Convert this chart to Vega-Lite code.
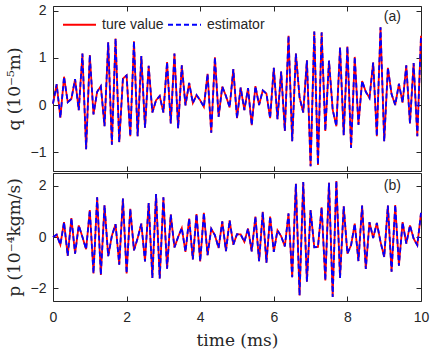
{
  "$schema": "https://vega.github.io/schema/vega-lite/v6.json",
  "padding": {"left": 4, "top": 3, "right": 5, "bottom": 5},
  "background": "white",
  "datasets": {
    "d": [
      {"t":0.0,"q":0.03,"p":0.00},{"t":0.1,"q":0.44,"p":0.09},{"t":0.2,"q":-0.27,"p":-0.30},{"t":0.3,"q":0.60,"p":0.58},{"t":0.4,"q":0.06,"p":-0.74},
      {"t":0.5,"q":0.13,"p":0.74},{"t":0.6,"q":0.55,"p":-0.65},{"t":0.7,"q":-0.11,"p":0.45},{"t":0.8,"q":1.09,"p":0.00},{"t":0.9,"q":-0.94,"p":-0.48},
      {"t":1.0,"q":1.06,"p":1.05},{"t":1.1,"q":-0.20,"p":-1.42},{"t":1.2,"q":0.28,"p":1.55},{"t":1.3,"q":0.40,"p":-1.48},{"t":1.4,"q":-0.45,"p":1.24},
      {"t":1.5,"q":1.33,"p":-0.75},{"t":1.6,"q":-0.84,"p":0.05},{"t":1.7,"q":1.41,"p":0.50},{"t":1.8,"q":-0.79,"p":-1.08},{"t":1.9,"q":0.56,"p":1.50},
      {"t":2.0,"q":0.63,"p":-1.42},{"t":2.1,"q":-0.66,"p":1.10},{"t":2.2,"q":1.35,"p":-0.52},{"t":2.3,"q":-0.66,"p":-0.05},{"t":2.4,"q":1.04,"p":0.52},
      {"t":2.5,"q":-0.48,"p":-0.95},{"t":2.6,"q":0.83,"p":1.33},{"t":2.7,"q":-0.16,"p":-1.60},{"t":2.8,"q":0.10,"p":1.68},{"t":2.9,"q":0.19,"p":-1.62},
      {"t":3.0,"q":-0.16,"p":1.55},{"t":3.1,"q":0.91,"p":-1.24},{"t":3.2,"q":-0.39,"p":0.88},{"t":3.3,"q":1.09,"p":-0.41},{"t":3.4,"q":-0.49,"p":0.00},
      {"t":3.5,"q":0.84,"p":0.35},{"t":3.6,"q":-0.01,"p":-0.58},{"t":3.7,"q":0.47,"p":0.72},{"t":3.8,"q":0.04,"p":-0.88},{"t":3.9,"q":0.21,"p":0.90},
      {"t":4.0,"q":0.10,"p":-0.95},{"t":4.1,"q":-0.04,"p":0.94},{"t":4.2,"q":0.66,"p":-0.71},{"t":4.3,"q":-0.59,"p":0.32},{"t":4.4,"q":1.01,"p":0.07},
      {"t":4.5,"q":-0.25,"p":-0.43},{"t":4.6,"q":0.39,"p":0.61},{"t":4.7,"q":0.19,"p":-0.55},{"t":4.8,"q":-0.05,"p":0.65},{"t":4.9,"q":0.76,"p":-0.30},
      {"t":5.0,"q":-0.28,"p":0.11},{"t":5.1,"q":0.37,"p":0.10},{"t":5.2,"q":-0.11,"p":-0.19},{"t":5.3,"q":0.36,"p":0.33},{"t":5.4,"q":-0.43,"p":-0.56},
      {"t":5.5,"q":0.40,"p":0.80},{"t":5.6,"q":0.00,"p":-0.94},{"t":5.7,"q":0.31,"p":0.98},{"t":5.8,"q":0.24,"p":-1.00},{"t":5.9,"q":-0.28,"p":0.80},
      {"t":6.0,"q":0.79,"p":-0.58},{"t":6.1,"q":-0.30,"p":0.26},{"t":6.2,"q":0.71,"p":0.03},{"t":6.3,"q":-0.55,"p":-0.37},{"t":6.4,"q":1.47,"p":0.92},
      {"t":6.5,"q":-0.77,"p":-1.57},{"t":6.6,"q":1.09,"p":2.08},{"t":6.7,"q":0.16,"p":-2.28},{"t":6.8,"q":-0.16,"p":2.15},{"t":6.9,"q":0.95,"p":-1.75},
      {"t":7.0,"q":-1.30,"p":1.05},{"t":7.1,"q":1.56,"p":-0.40},{"t":7.2,"q":-1.27,"p":-0.39},{"t":7.3,"q":1.54,"p":1.16},{"t":7.4,"q":-0.55,"p":-1.70},
      {"t":7.5,"q":0.94,"p":2.12},{"t":7.6,"q":-0.10,"p":-2.34},{"t":7.7,"q":-0.45,"p":2.19},{"t":7.8,"q":1.22,"p":-1.60},{"t":7.9,"q":-0.64,"p":1.20},
      {"t":8.0,"q":1.24,"p":-0.65},{"t":8.1,"q":-0.91,"p":-0.32},{"t":8.2,"q":1.02,"p":0.52},{"t":8.3,"q":-0.42,"p":-0.94},{"t":8.4,"q":0.51,"p":1.23},
      {"t":8.5,"q":0.28,"p":-1.25},{"t":8.6,"q":0.15,"p":0.58},{"t":8.7,"q":0.90,"p":-0.04},{"t":8.8,"q":-0.66,"p":0.55},{"t":8.9,"q":1.65,"p":-0.19},
      {"t":9.0,"q":-0.77,"p":-0.78},{"t":9.1,"q":0.79,"p":1.23},{"t":9.2,"q":0.23,"p":-1.36},{"t":9.3,"q":0.00,"p":1.25},{"t":9.4,"q":0.45,"p":-1.12},
      {"t":9.5,"q":0.05,"p":0.58},{"t":9.6,"q":0.84,"p":-0.26},{"t":9.7,"q":-0.39,"p":0.45},{"t":9.8,"q":0.89,"p":-0.06},{"t":9.9,"q":-0.66,"p":-0.32},
      {"t":10.0,"q":1.47,"p":0.94}
    ]
  },
  "config": {
    "view": {"stroke": "#262626", "strokeWidth": 1},
    "axis": {
      "grid": false, "domain": false, "tickSize": -5, "tickColor": "#262626", "tickWidth": 1, "labelFlush": false,
      "labelFont": "Liberation Sans", "labelFontSize": 14, "labelColor": "#262626",
      "titleFont": "DejaVu Serif", "titleFontSize": 17, "titleFontWeight": "normal", "titleColor": "#262626"
    },
    "legend": {"labelFont": "Liberation Sans", "labelFontSize": 14, "labelColor": "#262626"}
  },
  "spacing": 0,
  "vconcat": [
    {
      "width": 368, "height": 165,
      "data": {"name": "d"},
      "layer": [
        {
          "mark": {"type": "line", "strokeWidth": 1.8},
          "encoding": {
            "x": {"field": "t", "type": "quantitative", "scale": {"domain": [0, 10], "nice": false},
                  "axis": {"values": [0, 2, 4, 6, 8, 10], "labels": false, "title": null}},
            "y": {"field": "q", "type": "quantitative", "scale": {"domain": [-1.4, 2.1], "nice": false, "zero": false},
                  "axis": {"values": [-1, 0, 1, 2], "title": "q (10⁻⁵m)", "labelPadding": 12, "titlePadding": 7}},
            "color": {"datum": "ture value", "type": "nominal",
                      "scale": {"domain": ["ture value", "estimator"], "range": ["#ff0000", "#0000ff"]},
                      "legend": {"orient": "none", "direction": "horizontal", "legendX": 9, "legendY": 1, "title": null,
                                 "symbolType": "stroke", "symbolSize": 1089, "symbolStrokeWidth": 1.8, "labelOffset": 5, "columnPadding": 0, "padding": 0}},
            "strokeDash": {"datum": "ture value", "type": "nominal",
                           "scale": {"domain": ["ture value", "estimator"], "range": [[1, 0], [5, 3]]},
                           "legend": {"orient": "none", "direction": "horizontal", "legendX": 9, "legendY": 1, "title": null}}
          }
        },
        {
          "mark": {"type": "line", "strokeWidth": 1.8},
          "encoding": {
            "x": {"field": "t", "type": "quantitative", "axis": {"orient": "top", "values": [0, 2, 4, 6, 8, 10], "labels": false, "title": null}},
            "y": {"field": "q", "type": "quantitative", "axis": {"orient": "right", "values": [-1, 0, 1, 2], "labels": false, "title": null}},
            "color": {"datum": "estimator", "type": "nominal"},
            "strokeDash": {"datum": "estimator", "type": "nominal"}
          }
        },
        {
          "data": {"values": [{"label": "(a)"}]},
          "mark": {"type": "text", "font": "Liberation Sans", "fontSize": 14, "color": "#262626"},
          "encoding": {
            "x": {"datum": 9.22, "type": "quantitative", "axis": null},
            "y": {"datum": 1.87, "type": "quantitative", "axis": null},
            "text": {"field": "label"}
          }
        }
      ],
      "resolve": {"axis": {"x": "independent", "y": "independent"}}
    },
    {
      "width": 368, "height": 128,
      "data": {"name": "d"},
      "layer": [
        {
          "mark": {"type": "line", "strokeWidth": 1.8},
          "encoding": {
            "x": {"field": "t", "type": "quantitative", "scale": {"domain": [0, 10], "nice": false},
                  "axis": {"values": [0, 2, 4, 6, 8, 10], "title": "time (ms)", "labelPadding": 14, "titlePadding": 8}},
            "y": {"field": "p", "type": "quantitative", "scale": {"domain": [-2.5, 2.5], "nice": false},
                  "axis": {"values": [-2, 0, 2], "title": "p (10⁻⁴kgm/s)", "labelPadding": 12, "titlePadding": 7}},
            "color": {"datum": "ture value", "type": "nominal"},
            "strokeDash": {"datum": "ture value", "type": "nominal"}
          }
        },
        {
          "mark": {"type": "line", "strokeWidth": 1.8},
          "encoding": {
            "x": {"field": "t", "type": "quantitative", "axis": {"orient": "top", "values": [0, 2, 4, 6, 8, 10], "labels": false, "title": null}},
            "y": {"field": "p", "type": "quantitative", "axis": {"orient": "right", "values": [-2, 0, 2], "labels": false, "title": null}},
            "color": {"datum": "estimator", "type": "nominal"},
            "strokeDash": {"datum": "estimator", "type": "nominal"}
          }
        },
        {
          "data": {"values": [{"label": "(b)"}]},
          "mark": {"type": "text", "font": "Liberation Sans", "fontSize": 14, "color": "#262626"},
          "encoding": {
            "x": {"datum": 9.22, "type": "quantitative", "axis": null},
            "y": {"datum": 1.98, "type": "quantitative", "axis": null},
            "text": {"field": "label"}
          }
        }
      ],
      "resolve": {"axis": {"x": "independent", "y": "independent"}}
    }
  ]
}
